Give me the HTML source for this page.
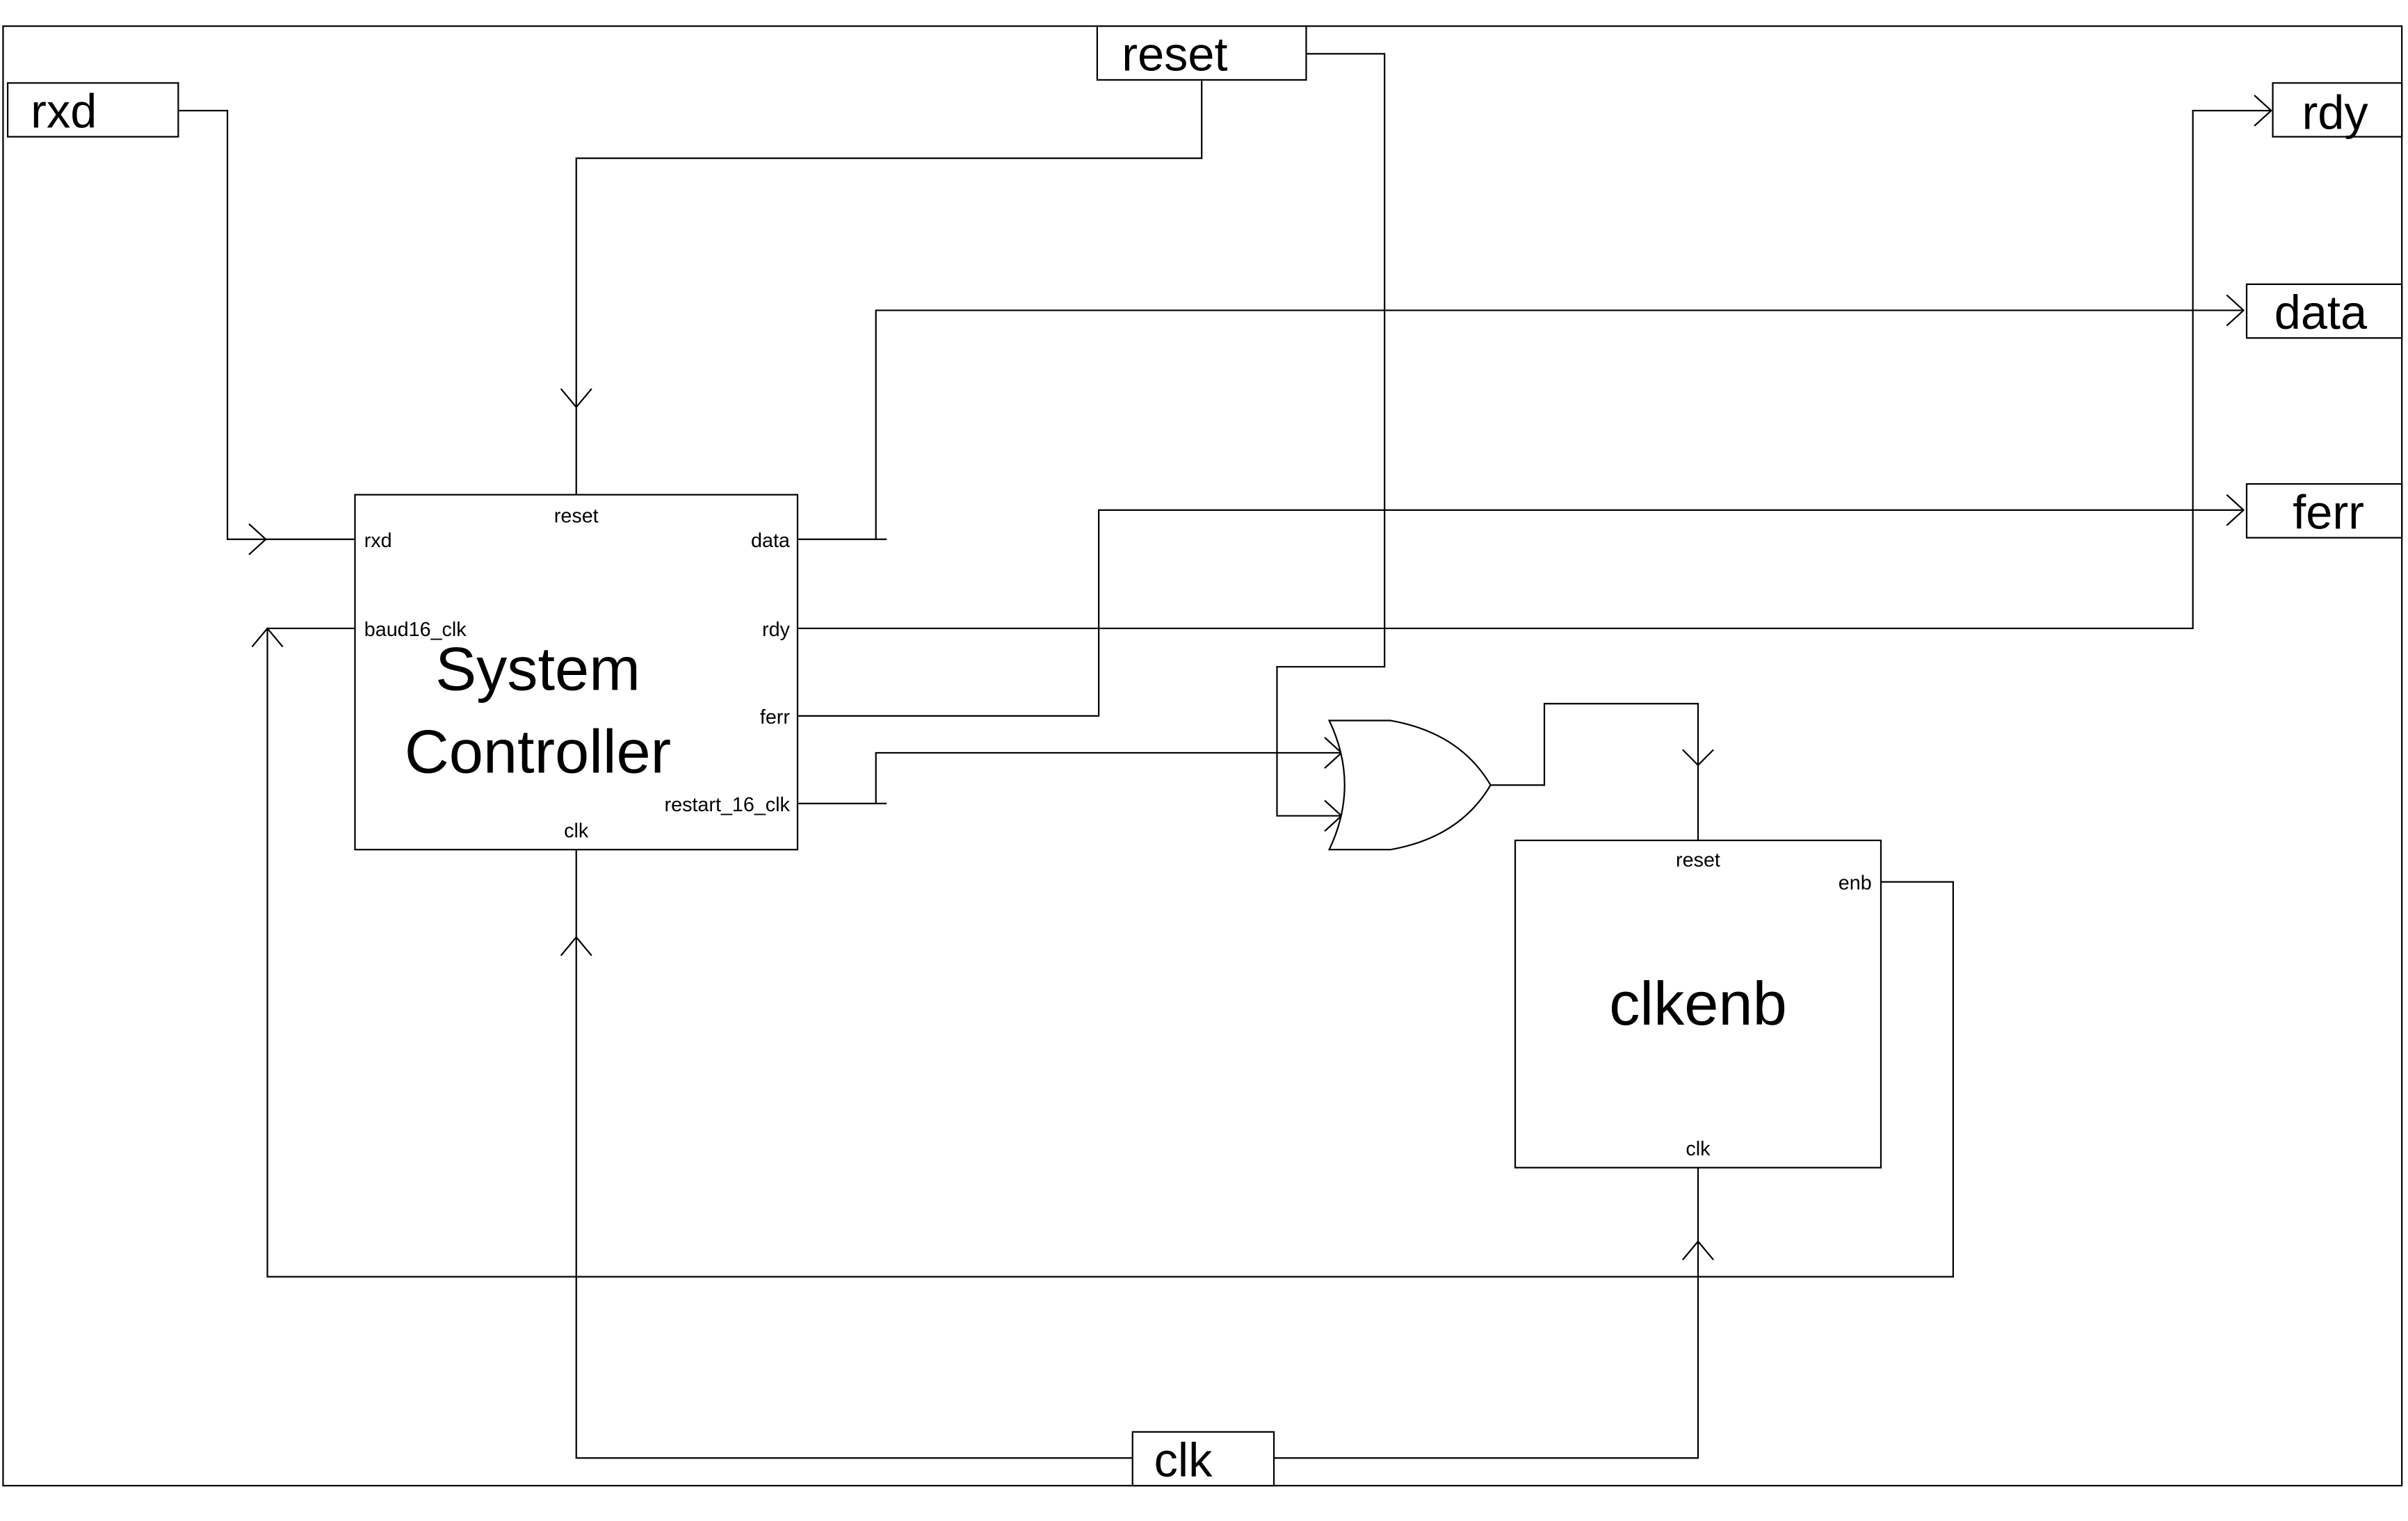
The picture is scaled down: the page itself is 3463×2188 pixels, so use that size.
<!DOCTYPE html>
<html><head><meta charset="utf-8"><style>
html,body{margin:0;padding:0;background:#fff;}
svg{display:block;}
text{font-family:"Liberation Sans Narrow","Liberation Sans",sans-serif;fill:#000;}
</style></head><body>
<svg width="3463" height="2188" viewBox="0 0 1567 990" preserveAspectRatio="none" xmlns="http://www.w3.org/2000/svg">
<g fill="none" stroke="#000" stroke-width="1">
<rect x="2" y="17" width="1561" height="950"/>
<!-- io boxes -->
<rect x="5" y="54" width="111" height="35" fill="#fff"/>
<rect x="714" y="17" width="136" height="35" fill="#fff"/>
<rect x="1479" y="54" width="84" height="35" fill="#fff"/>
<rect x="1462" y="185" width="101" height="35" fill="#fff"/>
<rect x="1462" y="315" width="101" height="35" fill="#fff"/>
<rect x="737" y="932" width="92" height="35" fill="#fff"/>
<!-- blocks -->
<rect x="231" y="322" width="288" height="231"/>
<rect x="986" y="547" width="238" height="213"/>
<!-- rxd -->
<polyline points="116,72 148,72 148,351 231,351"/>
<polyline points="162,341 173,351 162,361"/>
<!-- reset -->
<polyline points="782,52 782,103 375,103 375,322"/>
<polyline points="365,253 375,265 385,253"/>
<polyline points="850,35 901,35 901,434 831,434 831,531 873,531"/>
<polyline points="862,521 873,531 862,541"/>
<!-- data -->
<polyline points="519,351 577,351"/>
<polyline points="570,351 570,202 1460,202"/>
<polyline points="1449,192 1460,202 1449,212"/>
<!-- rdy -->
<polyline points="519,409 1427,409 1427,72 1478,72"/>
<polyline points="1467,62 1478,72 1467,82"/>
<!-- ferr -->
<polyline points="519,466 715,466 715,332 1460,332"/>
<polyline points="1449,322 1460,332 1449,342"/>
<!-- restart -->
<polyline points="519,523 577,523"/>
<polyline points="570,523 570,490 873,490"/>
<polyline points="862,480 873,490 862,500"/>
<!-- OR gate -->
<path d="M865,469 Q885,511 865,553 L905,553 Q950,545 970,511 Q950,477 905,469 Z" fill="#fff"/>
<polyline points="970,511 1005,511 1005,458 1105,458 1105,547"/>
<polyline points="1095,488 1105,498 1115,488"/>
<!-- enb feedback -->
<polyline points="1224,574 1271,574 1271,831 174,831 174,409 231,409"/>
<polyline points="164,421 174,409 184,421"/>
<!-- clk -->
<polyline points="737,949 375,949 375,553"/>
<polyline points="365,622 375,610 385,622"/>
<polyline points="829,949 1105,949 1105,760"/>
<polyline points="1095,820 1105,808 1115,820"/>
</g>
<g>
<text x="20" y="83" font-size="31">rxd</text>
<text x="730" y="46" font-size="31">reset</text>
<text x="1498" y="84" font-size="31">rdy</text>
<text x="1480" y="214" font-size="31">data</text>
<text x="1492" y="344" font-size="31">ferr</text>
<text x="751" y="961" font-size="31">clk</text>
<text x="375" y="340" font-size="13" text-anchor="middle">reset</text>
<text x="237" y="356" font-size="13">rxd</text>
<text x="237" y="414" font-size="13">baud16_clk</text>
<text x="514" y="356" font-size="13" text-anchor="end">data</text>
<text x="514" y="414" font-size="13" text-anchor="end">rdy</text>
<text x="514" y="471" font-size="13" text-anchor="end">ferr</text>
<text x="514" y="528" font-size="13" text-anchor="end">restart_16_clk</text>
<text x="375" y="545" font-size="13" text-anchor="middle">clk</text>
<text x="350" y="449" font-size="40" text-anchor="middle">System</text>
<text x="350" y="503" font-size="40" text-anchor="middle">Controller</text>
<text x="1105" y="564" font-size="13" text-anchor="middle">reset</text>
<text x="1218" y="579" font-size="13" text-anchor="end">enb</text>
<text x="1105" y="752" font-size="13" text-anchor="middle">clk</text>
<text x="1105" y="667" font-size="40" text-anchor="middle">clkenb</text>
</g>
</svg>
</body></html>
